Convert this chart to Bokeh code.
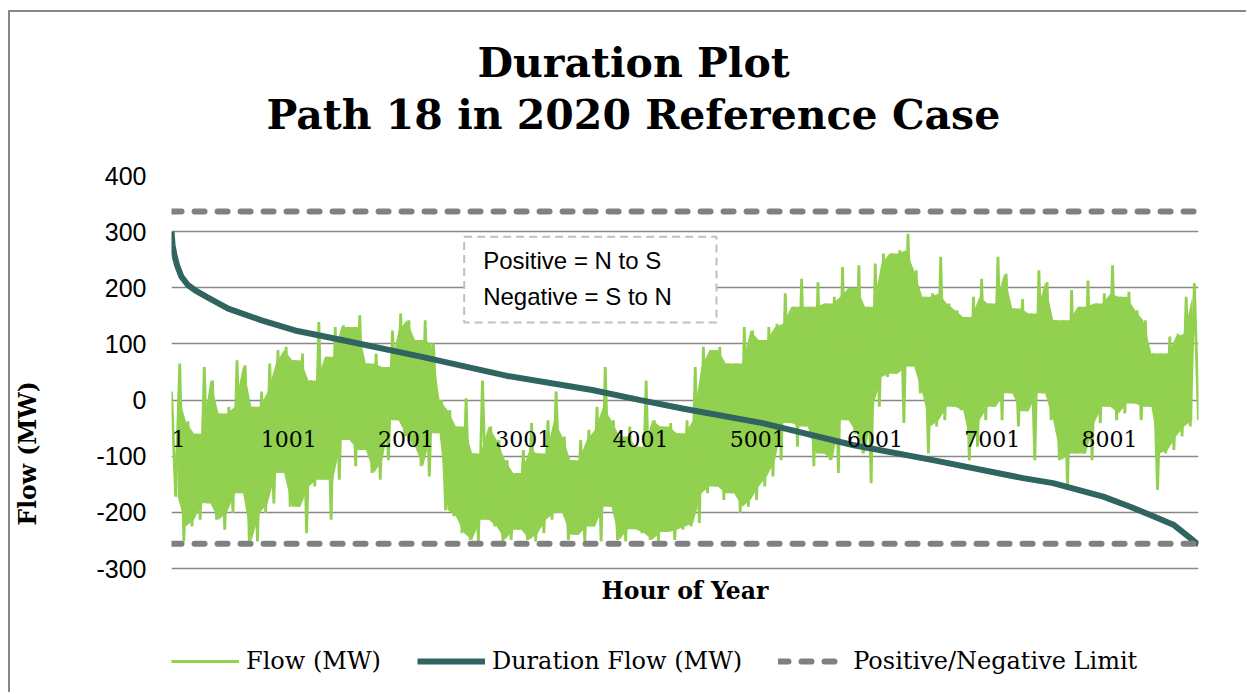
import numpy as np
from bokeh.plotting import figure
from bokeh.models import (Range1d, LinearAxis, FixedTicker, Label, BoxAnnotation,
                          Legend, LegendItem, Title)
from bokeh.embed import file_html
from bokeh.resources import INLINE

# ---------------- data ----------------
title_line1 = "Duration Plot"
title_line2 = "Path 18 in 2020 Reference Case"
x_title = "Hour of Year"
y_title = "Flow (MW)"
note_text = "Positive = N to S\nNegative = S to N"
series_names = ["Flow (MW)", "Duration Flow (MW)", "Positive/Negative Limit"]

total_hours = 8760
x_ticks = [1, 1001, 2001, 3001, 4001, 5001, 6001, 7001, 8001]
y_ticks = [-300, -200, -100, 0, 100, 200, 300, 400]

positive_limit = 336
negative_limit = -256

# hourly flow, read as successive peaks (hi) and troughs (lo) across the year
flow_hi = [
    15, 65, -38, -60, 59, 35, -24, -12, 71, 62, -12, 15, 65, 89, 95, 71, 83, 35, 139, 77, 130,
    133, 130, 151, 65, 83, 59, 124, 154, 142, 107, 142, 101, 0, -18, -47, 3, -95, 35, -47, -71, -107, -130,
    -89, -41, -95, -36, 15, -65, -107, -71, -53, -12, 59, -36, -65, -47, -83, 35, -36, -47, -41, -59, -36,
    59, 95, 89, 95, 65, 65, 130, 124, 107, 130, 136, 190, 166, 216, 166, 210, 172, 184, 237, 200,
    240, 166, 243, 261, 261, 267, 296, 231, 184, 190, 255, 172, 160, 148, 184, 216, 172, 255, 225, 163, 180,
    154, 231, 210, 142, 142, 196, 166, 213, 172, 190, 240, 184, 193, 160, 142, 83, 83, 113, 118, 184, 208,
]
flow_lo = [
    -172, -252, -225, -213, -184, -213, -231, -201, -166, -252, -252, -201, -184, -130, -190, -190, -237, -154, -142, -213, -142,
    -71, -118, -89, -130, -142, -107, -36, -65, -83, -118, -136, -59, -196, -207, -237, -249, -252, -213, -225, -252, -249, -231,
    -249, -252, -237, -213, -201, -249, -240, -252, -225, -252, -190, -249, -252, -230, -237, -249, -252, -235, -249, -231, -225,
    -219, -166, -154, -178, -166, -201, -190, -178, -154, -136, -107, -41, -83, -47, -118, -95, -107, -130, -36, -60,
    -95, -148, -12, 41, 47, -41, 60, 12, -95, -47, -36, -12, -18, -107, -83, -36, -12, -36, 12, -47, -20,
    -107, 12, -36, -107, -160, -95, -95, -107, -41, -12, -36, -24, -6, -36, -12, -160, -95, -89, -65, -47, -36,
]

# sorted (duration) flow curve
duration_hours = [1, 10, 29, 51, 85, 140, 199, 300, 484, 769, 1054, 1453, 2137, 2863, 3589,
                  4000, 4358, 5042, 5811, 6495, 7264, 7520, 7948, 8178, 8375, 8546, 8691, 8743, 8760]
duration_mw = [300, 275, 255, 238, 220, 205, 196, 184, 163, 142, 124, 107, 77, 43, 18,
               0, -15, -41, -80, -107, -139, -148, -172, -190, -207, -222, -246, -255, -257]

# ---------------- build series ----------------
flow = []
for h, l in zip(flow_hi, flow_lo):
    flow.append(h)
    flow.append(l)
flow_hours = np.linspace(1, total_hours, len(flow))
bin_hours = (flow_hours[0::2] + flow_hours[1::2]) / 2.0

# dense core of the hourly trace: where two neighbouring swings overlap
hi_a = np.array(flow_hi, dtype=float)
lo_a = np.array(flow_lo, dtype=float)
core_x = (bin_hours[:-1] + bin_hours[1:]) / 2.0
core_hi = np.minimum(hi_a[:-1], hi_a[1:])
core_lo = np.minimum(np.maximum(lo_a[:-1], lo_a[1:]), core_hi)

# ---------------- figure ----------------
GREEN = "#92D050"
TEAL = "#2F6461"
GRAY = "#808080"
GRID = "#878787"
SERIF = "DejaVu Serif"
SANS = "Liberation Sans"

FRAME_W, FRAME_H = 1027, 515
GRID_H = 393                       # pixels between the 400 and -300 gridlines
px_per_mw = GRID_H / (y_ticks[-1] - y_ticks[0])
y_bottom = y_ticks[-1] - FRAME_H / px_per_mw   # frame reaches down to hold legend

p = figure(frame_width=FRAME_W, frame_height=FRAME_H,
           min_border_left=160, min_border_right=48, min_border_top=163, min_border_bottom=2,
           x_range=Range1d(0.5, total_hours + 0.5), y_range=Range1d(y_bottom, y_ticks[-1]),
           x_axis_location=None, output_backend="svg", toolbar_location=None,
           background_fill_color="white", border_fill_color="white")
p.outline_line_color = None
p.styles = {"margin-left": "8px", "margin-top": "10px",
            "border-left": "2px solid #878787", "border-top": "2px solid #878787"}

# y axis
p.yaxis.ticker = FixedTicker(ticks=y_ticks)
p.yaxis.major_label_overrides = {t: str(t) for t in y_ticks}
p.yaxis.axis_line_color = None
p.yaxis.major_tick_line_color = None
p.yaxis.minor_tick_line_color = None
p.yaxis.major_tick_out = 0
p.yaxis.major_tick_in = 0
p.yaxis.major_label_standoff = 25
p.yaxis.major_label_text_font = SANS
p.yaxis.major_label_text_font_size = "25px"
p.yaxis.major_label_text_color = "black"


def spacer_axis(tick_value, gap):
    """An axis with one white (invisible) tick, used only to reserve panel space."""
    ax = LinearAxis(ticker=FixedTicker(ticks=[tick_value]), axis_line_color=None,
                    major_tick_line_color="white", minor_tick_line_color=None,
                    major_tick_in=0, major_tick_out=gap, minor_tick_out=0,
                    major_label_standoff=0, major_label_overrides={tick_value: ""},
                    major_label_text_font_size="1px")
    return ax


# spacer between tick labels and the y title
p.add_layout(spacer_axis(y_ticks[0], 51), "left")
p.add_layout(Title(text=y_title, align="left", offset=165, standoff=2,
                   text_font=SERIF, text_font_style="bold", text_font_size="23.5px",
                   text_color="black"), "left")

# x axis: category labels sit just under the zero line
xaxis = LinearAxis(ticker=FixedTicker(ticks=x_ticks), fixed_location=-100)
xaxis.axis_line_color = None
xaxis.major_tick_line_color = None
xaxis.minor_tick_line_color = None
xaxis.major_tick_out = 0
xaxis.major_tick_in = 0
xaxis.major_label_standoff = 4
xaxis.major_label_text_font = SERIF
xaxis.major_label_text_font_size = "22px"
xaxis.major_label_text_color = "black"
xaxis.major_label_overrides = {x_ticks[0]: "\u00a0\u00a0" + str(x_ticks[0])}
p.add_layout(xaxis, "above")

# spacer above the plot, then the two title lines
p.add_layout(spacer_axis(x_ticks[0], 36), "above")
p.add_layout(Title(text=title_line2, align="left", offset=95, standoff=1,
                   text_font=SERIF, text_font_style="bold", text_font_size="41px",
                   text_color="black"), "above")
p.add_layout(Title(text=title_line1, align="left", offset=306, standoff=3,
                   text_font=SERIF, text_font_style="bold", text_font_size="41px",
                   text_color="black"), "above")

p.xgrid.visible = False
p.ygrid.ticker = FixedTicker(ticks=y_ticks)
p.ygrid.grid_line_color = GRID
p.ygrid.grid_line_width = 1.5

# series
p.varea(x=core_x, y1=core_lo, y2=core_hi, fill_color=GREEN, fill_alpha=1.0)
r_flow = p.line(flow_hours, flow, line_color=GREEN, line_width=2.8)
r_dur = p.line(duration_hours, duration_mw, line_color=TEAL, line_width=6)
r_lim = p.multi_line(xs=[[1, total_hours], [1, total_hours]],
                     ys=[[positive_limit, positive_limit], [negative_limit, negative_limit]],
                     line_color=GRAY, line_width=6, line_dash="10 13", line_cap="round")

# note box
box = BoxAnnotation(left=2497, right=4649, top=291, bottom=138,
                    fill_color="white", fill_alpha=1.0, line_alpha=1.0,
                    line_color="#C4C0B2", line_width=2, line_dash="8 5")
p.add_layout(box)
p.add_layout(Label(x=2659, y=273, text=note_text, text_align="left", text_baseline="top",
                   text_font=SANS, text_font_size="24px", text_line_height=1.33,
                   text_color="black"))

# x title (inside the extended frame, below the plotted area)
p.add_layout(Label(x=513.5, y=100, x_units="screen", y_units="screen", text=x_title,
                   text_align="center", text_baseline="middle", text_font=SERIF,
                   text_font_style="bold", text_font_size="23.5px", text_color="black"))

# legend
legend = Legend(items=[LegendItem(label=series_names[0], renderers=[r_flow]),
                       LegendItem(label=series_names[1], renderers=[r_dur]),
                       LegendItem(label=series_names[2], renderers=[r_lim])],
                location=(0, 15), orientation="horizontal",
                glyph_width=68, glyph_height=24, label_height=24, label_standoff=7,
                spacing=36, padding=0, margin=0,
                label_text_font=SERIF, label_text_font_size="24px", label_text_color="black",
                background_fill_alpha=0, border_line_color=None)
p.add_layout(legend)

open("out.html", "w").write(file_html(p, INLINE))
